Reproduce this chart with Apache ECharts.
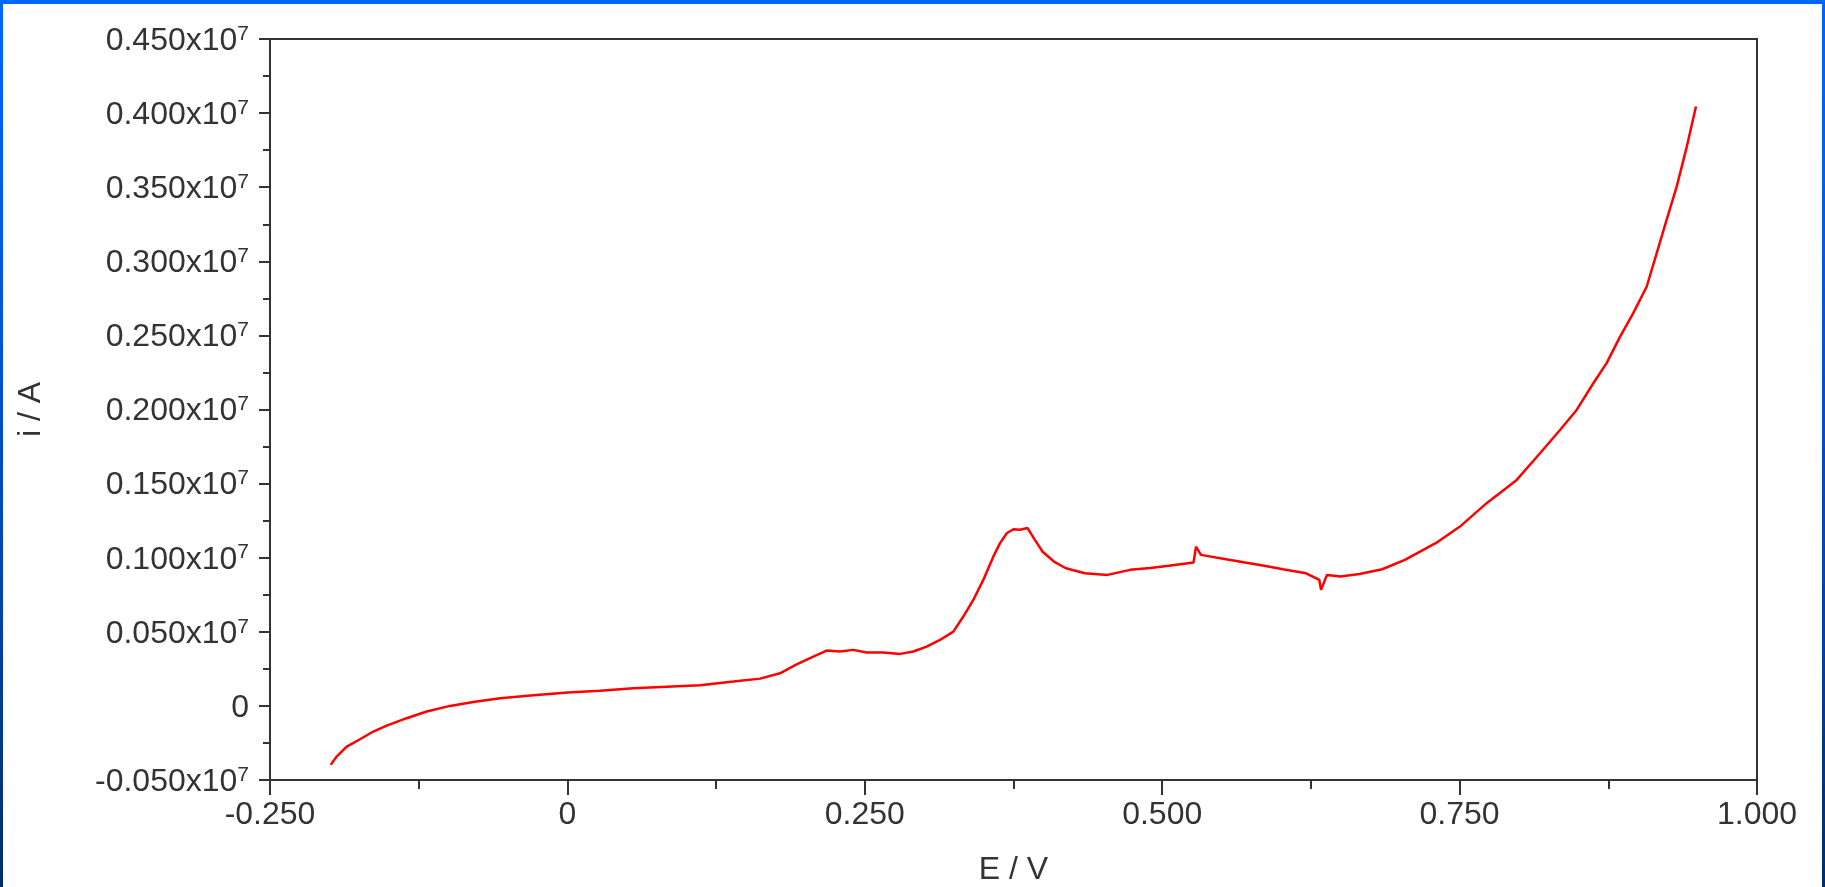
<!DOCTYPE html>
<html><head><meta charset="utf-8">
<script src="https://cdn.jsdelivr.net/npm/echarts@6/dist/echarts.min.js"></script>
<style>
html,body{margin:0;padding:0;overflow:hidden;background:#fff;}
#frame{position:absolute;left:0;top:0;width:1825px;height:887px;background:linear-gradient(to bottom,#0066ff 0%,#0058e6 30%,#0045b0 65%,#002c6c 100%);}
#inner{position:absolute;left:3px;top:4px;width:1819px;height:883px;background:#fff;}
#chart{position:absolute;left:0;top:0;width:1825px;height:887px;}
</style></head><body>
<div id="frame"><div id="inner"></div></div>
<div id="chart"></div>
<script>
// E / V
const potentialV = [-0.199, -0.194, -0.1855, -0.1743, -0.1632, -0.1519, -0.1351, -0.1183, -0.0987, -0.0791, -0.0566, -0.0286,
  0.0004, 0.0274, 0.0554, 0.0835, 0.1115, 0.1395, 0.1619, 0.1787,
  0.1927, 0.2067, 0.2179, 0.2291, 0.2403, 0.2516, 0.2656, 0.2796, 0.2908, 0.302,
  0.3132, 0.3244, 0.3328, 0.3412, 0.3496, 0.358, 0.3637, 0.3693, 0.3749, 0.3805,
  0.3868, 0.393, 0.3995, 0.409, 0.419, 0.435, 0.454, 0.473, 0.490, 0.5055,
  0.5263, 0.5284, 0.5326, 0.5536, 0.5696, 0.5856, 0.6015, 0.6209, 0.6321, 0.6335,
  0.6385, 0.6498, 0.6658, 0.685, 0.704, 0.7299, 0.7503, 0.7727, 0.798, 0.8176,
  0.8344, 0.8484, 0.8624, 0.8736, 0.8848, 0.896, 0.9073, 0.9157, 0.924, 0.9325, 0.941, 0.9487];
// i / A (in units of the axis labels)
const currentA = [-0.0398, -0.0342, -0.0275, -0.0225, -0.0173, -0.0133, -0.0083, -0.0038, 0.0, 0.0027, 0.0052, 0.0072,
  0.009, 0.0103, 0.0119, 0.013, 0.014, 0.0164, 0.0184, 0.022,
  0.028, 0.0333, 0.0373, 0.0367, 0.0378, 0.036, 0.036, 0.0351, 0.0367, 0.04,
  0.0445, 0.0501, 0.0603, 0.0715, 0.085, 0.1007, 0.1098, 0.1165, 0.1192, 0.1188,
  0.120, 0.112, 0.104, 0.0974, 0.0929, 0.0895, 0.0884, 0.0918, 0.093, 0.0945,
  0.0967, 0.1075, 0.1019, 0.099, 0.0967, 0.0945, 0.0922, 0.0895, 0.085, 0.0783,
  0.0884, 0.0873, 0.089, 0.0922, 0.0985, 0.1098, 0.121, 0.1368, 0.1525, 0.1705,
  0.1862, 0.1997, 0.2177, 0.2313, 0.249, 0.265, 0.283, 0.3055, 0.328, 0.3504, 0.3774, 0.4044];

const xTickLabels = ['-0.250', '0', '0.250', '0.500', '0.750', '1.000'];
const yTickLabels = ['-0.050', '0', '0.050', '0.100', '0.150', '0.200', '0.250', '0.300', '0.350', '0.400', '0.450'];
const yTickSuffix = 'x10';
const yTickExponent = '7';

const X_MIN = -0.25, X_MAX = 1.0, X_STEP = 0.25;
const Y_MIN = -0.05, Y_MAX = 0.45, Y_STEP = 0.05;

const axisColor = '#333333';
const textColor = '#333333';
const FONT = 'Liberation Sans, Arial, sans-serif';

const chart = echarts.init(document.getElementById('chart'), null, {renderer: 'canvas'});
chart.setOption({
  backgroundColor: 'transparent',
  animation: false,
  grid: {
    left: 270, top: 39, right: 68, bottom: 107,
    show: true, borderColor: axisColor, borderWidth: 2, backgroundColor: 'transparent',
    containLabel: false, outerBoundsMode: 'none'
  },
  xAxis: {
    type: 'value', min: X_MIN, max: X_MAX, interval: X_STEP,
    name: 'E / V', nameLocation: 'middle', nameGap: 74,
    nameTextStyle: {fontFamily: FONT, fontSize: 32, color: textColor},
    axisLine: {show: true, onZero: false, lineStyle: {color: axisColor, width: 2}},
    axisTick: {show: true, inside: false, length: 15, lineStyle: {color: axisColor, width: 2}},
    minorTick: {show: true, splitNumber: 2, length: 9, lineStyle: {color: axisColor, width: 2}},
    splitLine: {show: false},
    minorSplitLine: {show: false},
    axisLabel: {
      margin: 19, fontFamily: FONT, fontSize: 32, color: textColor,
      showMinLabel: true, showMaxLabel: true, hideOverlap: false,
      formatter: function (v) {
        const i = Math.round((v - X_MIN) / X_STEP);
        return xTickLabels[i] !== undefined ? xTickLabels[i] : '';
      }
    }
  },
  yAxis: {
    type: 'value', min: Y_MIN, max: Y_MAX, interval: Y_STEP,
    name: 'i / A', nameLocation: 'middle', nameGap: 223,
    nameTextStyle: {fontFamily: FONT, fontSize: 32, color: textColor},
    axisLine: {show: true, onZero: false, lineStyle: {color: axisColor, width: 2}},
    axisTick: {show: true, inside: false, length: 11, lineStyle: {color: axisColor, width: 2}},
    minorTick: {show: true, splitNumber: 2, length: 7, lineStyle: {color: axisColor, width: 2}},
    splitLine: {show: false},
    minorSplitLine: {show: false},
    axisLabel: {
      margin: 21, color: textColor,
      showMinLabel: true, showMaxLabel: true, hideOverlap: false,
      formatter: function (v) {
        const i = Math.round((v - Y_MIN) / Y_STEP);
        const t = yTickLabels[i];
        if (t === undefined) return '';
        if (t === '0') return '{m|0}';
        return '{m|' + t + yTickSuffix + '}{s|' + yTickExponent + '}';
      },
      rich: {
        m: {fontFamily: FONT, fontSize: 32, lineHeight: 31, color: textColor, padding: [7, 0, 3, 0]},
        s: {fontFamily: FONT, fontSize: 21, lineHeight: 20, color: textColor, verticalAlign: 'top'}
      }
    }
  },
  series: [{
    type: 'line',
    data: potentialV.map(function (e, i) { return [e, currentA[i]]; }),
    showSymbol: false, symbol: 'none', smooth: false,
    lineStyle: {color: '#ff0000', width: 2.5},
    itemStyle: {color: '#ff0000'},
    silent: true
  }]
});
</script>
</body></html>
